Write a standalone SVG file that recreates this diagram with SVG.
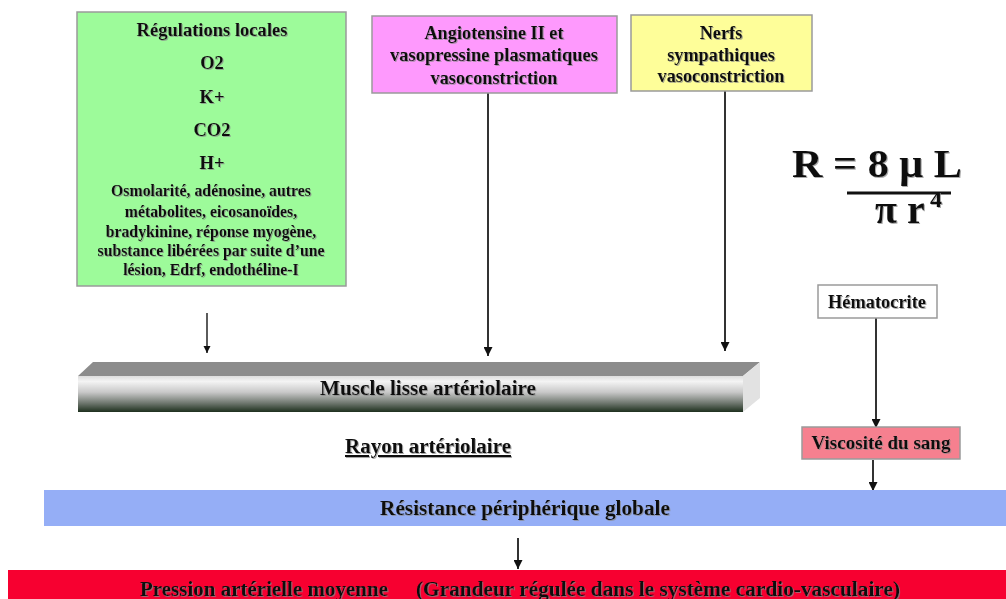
<svg xmlns="http://www.w3.org/2000/svg" width="1006" height="599" viewBox="0 0 1006 599">
<style>
.t{font-family:"Liberation Serif","Times New Roman",serif;font-weight:bold;fill:#111;text-anchor:middle;filter:url(#sh)}
.box{stroke:#9a9a9a;stroke-width:1.5}
.con{stroke:#333;stroke-width:2;fill:none;marker-end:url(#ah)}
</style>
<defs>
<filter id="sh" x="-5%" y="-20%" width="110%" height="150%">
<feDropShadow dx="1" dy="1" stdDeviation="0.6" flood-color="#888" flood-opacity="0.7"/>
</filter>
<marker id="ah" viewBox="0 0 10 10" refX="10" refY="5" markerWidth="4.5" markerHeight="4.5" orient="auto" markerUnits="strokeWidth">
<path d="M0,0 L10,5 L0,10 z" fill="#111"/>
</marker>
<linearGradient id="front" x1="0" y1="0" x2="0" y2="1">
<stop offset="0" stop-color="#dcdcdc"/>
<stop offset="0.15" stop-color="#f4f4f4"/>
<stop offset="0.45" stop-color="#c8c8c8"/>
<stop offset="0.75" stop-color="#707870"/>
<stop offset="1" stop-color="#1e301e"/>
</linearGradient>
</defs>
<rect width="1006" height="599" fill="#fff"/>

<g id="connectors">
<line class="con" x1="207" y1="313" x2="207" y2="353" style="stroke-width:1.6"/>
<line class="con" x1="488" y1="93" x2="488" y2="356"/>
<line class="con" x1="725" y1="91" x2="725" y2="351"/>
<line class="con" x1="876" y1="318" x2="876" y2="428"/>
<line class="con" x1="873" y1="460" x2="873" y2="491"/>
<line class="con" x1="518" y1="538" x2="518" y2="569"/>
</g>

<g id="regulations-locales">
<rect class="box" x="77" y="12" width="269" height="274" fill="#9dfb9a"/>
<text class="t" font-size="18.5" x="212" y="36" textLength="151" lengthAdjust="spacingAndGlyphs">Régulations locales</text>
<text class="t" font-size="18.5" x="212" y="69">O2</text>
<text class="t" font-size="18.5" x="212" y="103">K+</text>
<text class="t" font-size="18.5" x="212" y="136">CO2</text>
<text class="t" font-size="18.5" x="212" y="169">H+</text>
<text class="t" font-size="15.8" x="211" y="196" textLength="200" lengthAdjust="spacingAndGlyphs">Osmolarité, adénosine, autres</text>
<text class="t" font-size="15.8" x="211" y="217">métabolites, eicosanoïdes,</text>
<text class="t" font-size="15.8" x="211" y="237">bradykinine, réponse myogène,</text>
<text class="t" font-size="15.8" x="211" y="256">substance libérées par suite d’une</text>
<text class="t" font-size="15.8" x="211" y="275">lésion, Edrf, endothéline-I</text>
</g>

<g id="angiotensine">
<rect class="box" x="372" y="16" width="245" height="77" fill="#fe99fd"/>
<text class="t" font-size="18.3" x="494" y="39">Angiotensine II et</text>
<text class="t" font-size="18.3" x="494" y="61" textLength="208" lengthAdjust="spacingAndGlyphs">vasopressine plasmatiques</text>
<text class="t" font-size="18.3" x="494" y="84">vasoconstriction</text>
</g>

<g id="nerfs">
<rect class="box" x="631" y="15" width="181" height="76" fill="#fefe99"/>
<text class="t" font-size="18.3" x="721" y="39">Nerfs</text>
<text class="t" font-size="18.3" x="721" y="61">sympathiques</text>
<text class="t" font-size="18.3" x="721" y="82">vasoconstriction</text>
</g>

<g id="formule">
<text class="t" font-size="40" x="877" y="177" textLength="170" lengthAdjust="spacingAndGlyphs">R = 8 μ L</text>
<line x1="847" y1="193" x2="951" y2="193" stroke="#111" stroke-width="3"/>
<text class="t" font-size="40" x="875" y="223" style="text-anchor:start">π r</text>
<text class="t" font-size="24" x="930" y="207" style="text-anchor:start">4</text>
</g>

<g id="muscle">
<polygon points="78,376 93,362 760,362 743,376" fill="#8c8c8c"/>
<polygon points="743,376 760,362 760,398 743,412" fill="#e2e2e2"/>
<rect x="78" y="376" width="665" height="36" fill="url(#front)"/>
<text class="t" font-size="20.5" x="428" y="395" textLength="216" lengthAdjust="spacingAndGlyphs">Muscle lisse artériolaire</text>
</g>

<g id="rayon">
<text class="t" font-size="20.5" x="428" y="453" textLength="166" lengthAdjust="spacingAndGlyphs" text-decoration="underline">Rayon artériolaire</text>
</g>

<g id="hematocrite">
<rect class="box" x="818" y="285" width="119" height="33" fill="#fff"/>
<text class="t" font-size="18" x="877" y="308" textLength="98" lengthAdjust="spacingAndGlyphs">Hématocrite</text>
</g>

<g id="viscosite">
<rect class="box" x="802" y="427" width="158" height="32" fill="#f6808f"/>
<text class="t" font-size="18.5" x="881" y="449" textLength="139" lengthAdjust="spacingAndGlyphs">Viscosité du sang</text>
</g>

<g id="resistance">
<rect x="44" y="490" width="962" height="36" fill="#95aef6"/>
<text class="t" font-size="20.5" x="525" y="515" textLength="290" lengthAdjust="spacingAndGlyphs">Résistance périphérique globale</text>
</g>

<g id="pression">
<rect x="8" y="570" width="998" height="29" fill="#f70030"/>
<text class="t" font-size="20.5" x="264" y="596" textLength="248" lengthAdjust="spacingAndGlyphs">Pression artérielle moyenne</text>
<text class="t" font-size="20.5" x="658" y="596" textLength="484" lengthAdjust="spacingAndGlyphs">(Grandeur régulée dans le système cardio-vasculaire)</text>
</g>
</svg>
